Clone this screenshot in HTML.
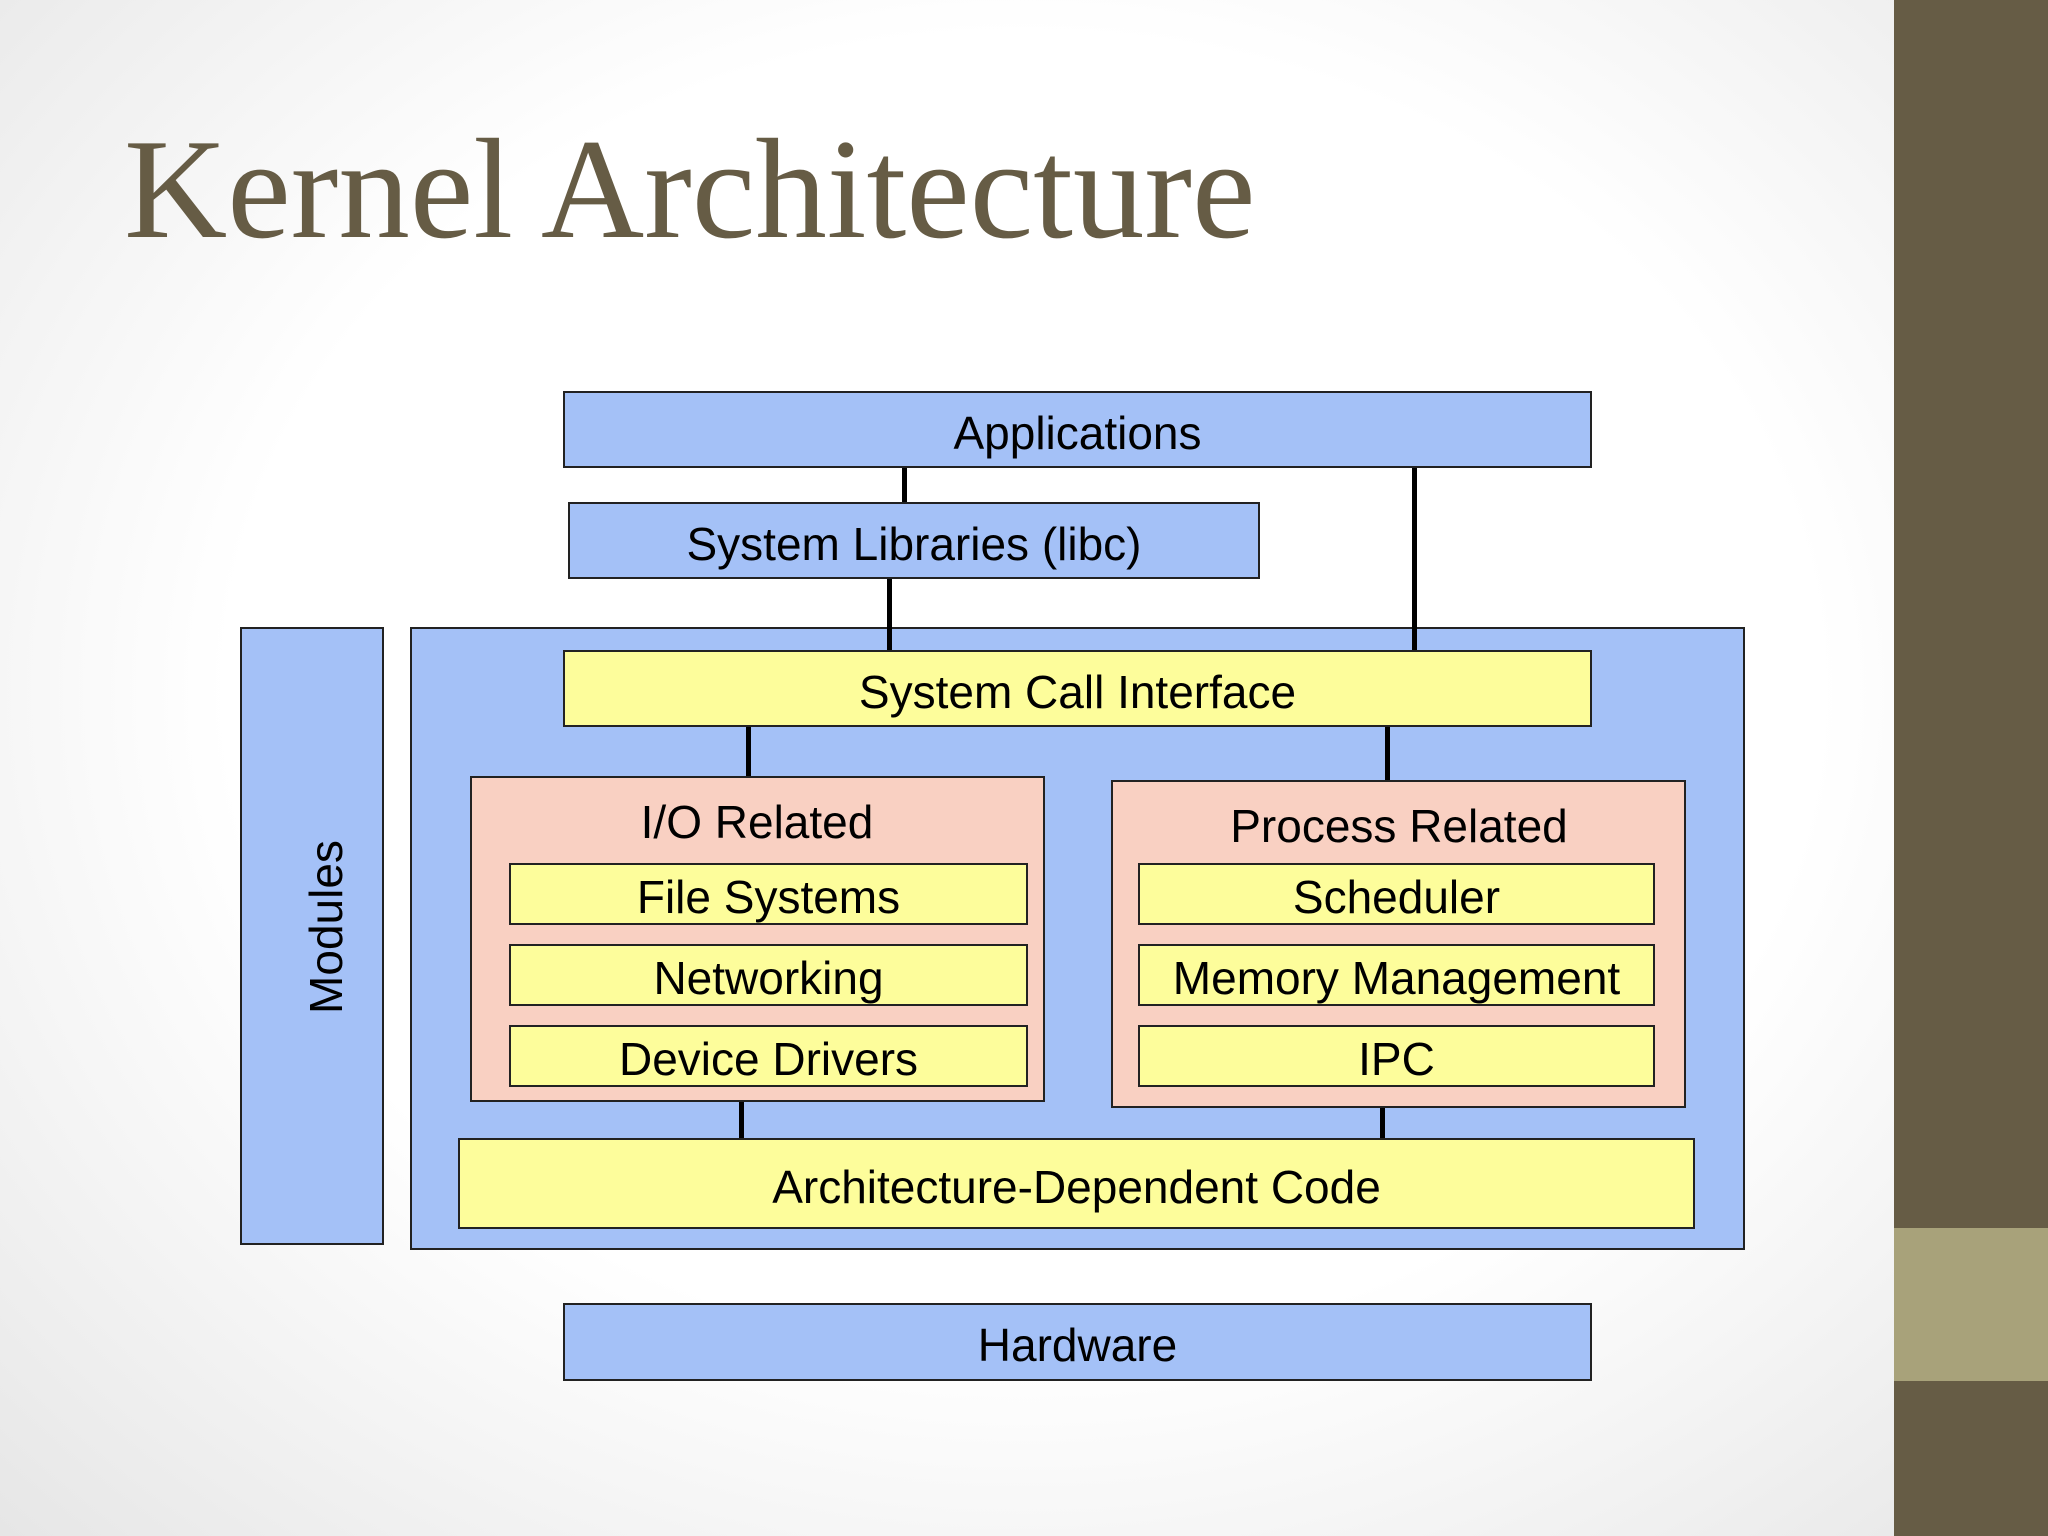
<!DOCTYPE html>
<html><head><meta charset="utf-8"><style>
html,body{margin:0;padding:0}
body{width:2048px;height:1536px;position:relative;overflow:hidden;
background:radial-gradient(ellipse at 50% 45%,#ffffff 0%,#ffffff 55%,#e6e6e6 100%);
font-family:"Liberation Sans",sans-serif}
.b{position:absolute;box-sizing:border-box;border:2px solid #222;display:flex;align-items:center;justify-content:center;font-size:46px;color:#000;padding-top:6px}
.bl{background:#a4c1f7}
.y{background:#fdfd9b}
.p{background:#f9d0c2}
.l{position:absolute;background:#000;width:5px}
.t{position:absolute;font-size:46px;transform:translate(-50%,-50%);white-space:nowrap}
</style></head><body>
<div style="position:absolute;left:1894px;top:0;width:154px;height:1536px;background:#665c45"></div>
<div style="position:absolute;left:1894px;top:1228px;width:154px;height:153px;background:#a8a27a"></div>
<div style="position:absolute;left:124px;top:104px;font-family:'Liberation Serif',serif;font-size:143px;color:#665c45;white-space:nowrap;line-height:1.2">Kernel Architecture</div>

<div class="b bl" style="left:563px;top:391px;width:1029px;height:77px">Applications</div>
<div class="b bl" style="left:568px;top:502px;width:692px;height:77px">System Libraries (libc)</div>
<div class="b bl" style="left:410px;top:627px;width:1335px;height:623px"></div>
<div class="b bl" style="left:240px;top:627px;width:144px;height:618px"></div>
<div class="t" style="left:326px;top:927px;transform:translate(-50%,-50%) rotate(-90deg)">Modules</div>
<div class="b y" style="left:563px;top:650px;width:1029px;height:77px">System Call Interface</div>
<div class="b p" style="left:470px;top:776px;width:575px;height:326px"></div>
<div class="b p" style="left:1111px;top:780px;width:575px;height:328px"></div>
<div class="t" style="left:757px;top:822px">I/O Related</div>
<div class="t" style="left:1399px;top:826px">Process Related</div>
<div class="b y" style="left:509px;top:863px;width:519px;height:62px">File Systems</div>
<div class="b y" style="left:509px;top:944px;width:519px;height:62px">Networking</div>
<div class="b y" style="left:509px;top:1025px;width:519px;height:62px">Device Drivers</div>
<div class="b y" style="left:1138px;top:863px;width:517px;height:62px">Scheduler</div>
<div class="b y" style="left:1138px;top:944px;width:517px;height:62px">Memory Management</div>
<div class="b y" style="left:1138px;top:1025px;width:517px;height:62px">IPC</div>
<div class="b y" style="left:458px;top:1138px;width:1237px;height:91px">Architecture-Dependent Code</div>
<div class="b bl" style="left:563px;top:1303px;width:1029px;height:78px">Hardware</div>

<div class="l" style="left:902px;top:468px;height:34px"></div>
<div class="l" style="left:1412px;top:468px;height:182px"></div>
<div class="l" style="left:887px;top:579px;height:71px"></div>
<div class="l" style="left:746px;top:727px;height:49px"></div>
<div class="l" style="left:1385px;top:727px;height:53px"></div>
<div class="l" style="left:739px;top:1102px;height:36px"></div>
<div class="l" style="left:1380px;top:1108px;height:30px"></div>
</body></html>
